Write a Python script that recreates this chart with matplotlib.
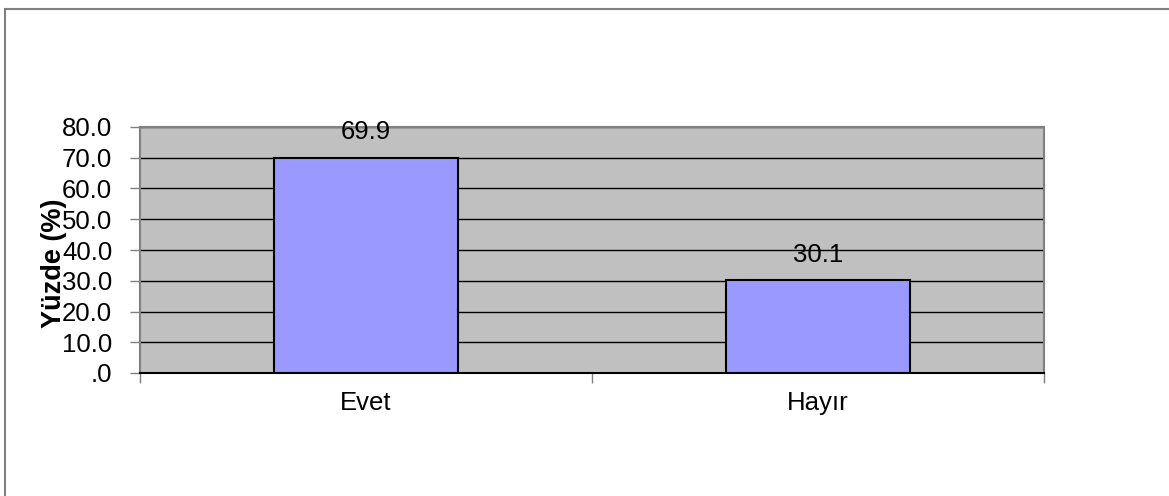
import matplotlib.pyplot as plt
from matplotlib.patches import Rectangle

plt.rcParams['font.family'] = ['Liberation Sans', 'DejaVu Sans']

categories = ["Evet", "Hayır"]
values = [69.9, 30.1]
yticks = [0, 10, 20, 30, 40, 50, 60, 70, 80]
ytick_labels = [".0", "10.0", "20.0", "30.0", "40.0", "50.0", "60.0", "70.0", "80.0"]

W, H = 1169, 496
FS = 18.5
fig = plt.figure(figsize=(W / 100, H / 100), dpi=100)

# outer chart border (only left and top visible in the reference)
fig.patches.append(Rectangle((4.5 / W, -0.1), 1.2, 1 - 8.5 / H + 0.1,
                             transform=fig.transFigure, fill=False,
                             edgecolor='#808080', linewidth=1.5))

ax = fig.add_axes([140 / W, 1 - 373 / H, (1044 - 140) / W, (373 - 127) / H])
ax.set_facecolor('#C0C0C0')

x = list(range(len(categories)))
ax.bar(x, values, width=0.405, color='#9999FF', edgecolor='black',
       linewidth=1.5, zorder=3)

for xi, v in zip(x, values):
    ax.annotate(f"{v:.1f}", (xi, v), xytext=(0, 10), textcoords='offset points',
                ha='center', va='bottom', fontsize=FS)

ax.set_xlim(-0.5, 1.5)
ax.set_ylim(0, 80)
ax.set_yticks(yticks)
ax.set_yticklabels(ytick_labels, fontsize=FS)
ax.yaxis.grid(True, color='black', linewidth=1, zorder=1)
ax.set_axisbelow(True)
ax.tick_params(axis='y', length=7, width=1, color='#808080', pad=13)

# category ticks sit between the categories
ax.set_xticks([-0.5, 0.5, 1.5])
ax.set_xticklabels([])
ax.set_xticks(x, minor=True)
ax.set_xticklabels(categories, minor=True, fontsize=FS)
ax.tick_params(axis='x', which='major', length=7, width=1, color='#808080')
ax.tick_params(axis='x', which='minor', length=0, pad=13)

for s in ax.spines.values():
    s.set_color('#808080')
    s.set_linewidth(1.5)
ax.spines['bottom'].set_color('black')

fig.text(54 / W, 1 - 263 / H, "Yüzde (%)", rotation=90, ha='center', va='center',
         fontsize=19.5, fontweight='bold')

fig.savefig("out.png", dpi=100, facecolor='white')
